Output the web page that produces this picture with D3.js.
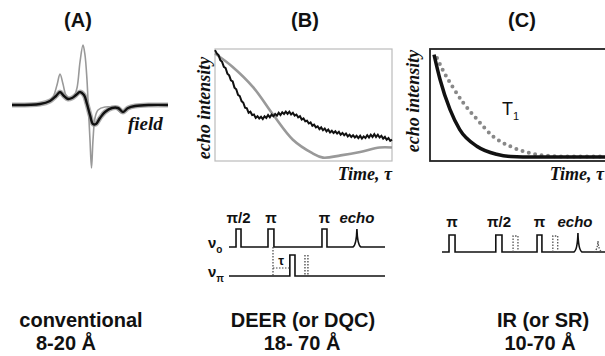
<!DOCTYPE html>
<html>
<head>
<meta charset="utf-8">
<script src="https://cdn.jsdelivr.net/npm/d3@7"></script>
<style>
  body { margin: 0; background: #fff; }
  svg { display: block; }
  .sans { font-family: "Liberation Sans", Arial, sans-serif; font-weight: bold; fill: #111; }
  .serif { font-family: "Liberation Serif", "Times New Roman", serif; font-weight: bold; font-style: italic; fill: #111; }
</style>
</head>
<body>
<div id="chart"></div>
<script>
// ---- panel A: cw EPR spectrum (field units, derivative intensity)
const specField = [0, 28, 36, 41, 45, 48, 51, 54, 58, 62, 65, 68, 71, 73, 75, 76, 78, 79.5, 81, 83, 86, 93, 103, 110, 116, 128, 156];
const specGray  = [0, 1, 3, 8, 20, 31, 21, 10, 7, 9, 17, 43, 60, 50, 25, 5, -35, -63, -35, -13, -5, -2, -3, -8, -4, -1, 0];
const specField2 = [0, 28, 38, 44, 48, 52, 56, 60, 64, 68, 72, 75, 78, 81, 84, 88, 93, 100, 106, 111, 116, 123, 138, 156];
const specBlack  = [0, 1, 4, 9, 13, 9, 6, 7, 10, 13, 10, 1, -10, -19, -19, -13, -7, -3, -3, -7, -3, -1, 0, 0];

// ---- panel B: DEER echo decay (time 0-100, normalised intensity)
const deerTime = d3.range(0, 101, 1);
const deerBlack = [0.99, 0.96, 0.945, 0.90, 0.885, 0.84, 0.83, 0.78, 0.765, 0.72,
  0.71, 0.655, 0.64, 0.59, 0.58, 0.535, 0.52, 0.475, 0.47, 0.43,
  0.44, 0.41, 0.415, 0.385, 0.40, 0.38, 0.395, 0.375, 0.40, 0.385,
  0.41, 0.39, 0.415, 0.40, 0.42, 0.405, 0.43, 0.41, 0.435, 0.42,
  0.44, 0.42, 0.44, 0.415, 0.43, 0.405, 0.415, 0.39, 0.40, 0.37,
  0.38, 0.355, 0.36, 0.335, 0.345, 0.315, 0.325, 0.30, 0.31, 0.285,
  0.30, 0.275, 0.29, 0.265, 0.28, 0.255, 0.27, 0.25, 0.265, 0.245,
  0.26, 0.235, 0.25, 0.23, 0.245, 0.22, 0.235, 0.215, 0.23, 0.21,
  0.225, 0.205, 0.225, 0.20, 0.22, 0.205, 0.23, 0.21, 0.235, 0.215,
  0.24, 0.215, 0.235, 0.21, 0.225, 0.20, 0.215, 0.19, 0.205, 0.18, 0.19];
const deerGrayTime = [0, 10, 21.5, 33, 44, 55, 61, 71, 82, 93, 100];
const deerGray = [0.96, 0.84, 0.66, 0.41, 0.19, 0.07, 0.03, 0.05, 0.08, 0.12, 0.12];

// ---- panel C: inversion recovery decays
const irTime = [2.3, 5.7, 11.4, 17, 27, 38, 46, 60, 100];
const irFast = [0.95, 0.73, 0.46, 0.28, 0.13, 0.06, 0.04, 0.035, 0.035];
const irSlowTime = [4, 7.4, 13, 19, 27, 36, 46, 55, 65, 80, 100];
const irSlow = [0.92, 0.81, 0.66, 0.52, 0.37, 0.22, 0.13, 0.08, 0.05, 0.04, 0.04];

// ---- pulse sequences (sequence time units)
const deerObsPulses = [[4.5, 7.7], [25, 28.8], [59.6, 62.8]];
const deerObsEcho = 82;
const deerPumpPulses = [[39, 42.3]];
const deerDotted = [48.7, 50.6];
const deerTauMark = [28.2, 39];
const deerLabels = [{t: 6.1, s: "π/2"}, {t: 26.9, s: "π"}, {t: 61.2, s: "π"}, {t: 82, s: "echo", it: true}];

const irPulses = [[4.3, 8], [33, 36.8], [58.3, 61.3]];
const irDottedPulses = [[43.6, 46.6], [68, 71]];
const irEcho = 83.4;
const irDottedEcho = 95.7;
const irLabels = [{t: 6.1, s: "π"}, {t: 35, s: "π/2"}, {t: 59.8, s: "π"}, {t: 81.6, s: "echo", it: true}];

const bottomLines = [
  {x: 81, l1: "conventional", x2: 66, l2: "8-20 Å"},
  {x: 303, l1: "DEER (or DQC)", x2: 302, l2: "18- 70 Å"},
  {x: 543, l1: "IR (or SR)", x2: 540, l2: "10-70 Å"}
];

const svg = d3.select("#chart").append("svg").attr("width", 605).attr("height", 356);

// titles
[["(A)", 78], ["(B)", 305], ["(C)", 522]].forEach(([s, x]) => {
  svg.append("text").attr("class", "sans").attr("x", x).attr("y", 27)
    .attr("text-anchor", "middle").style("font-size", "20px").text(s);
});

// ===== Panel A
const ax = d3.scaleLinear().domain([0, 156]).range([12, 168]);
const ay = d3.scaleLinear().domain([-65, 60]).range([170, 45]);
const aLine = d3.line().x(d => ax(d[0])).y(d => ay(d[1])).curve(d3.curveCatmullRom.alpha(0.5));
const grayPts = d3.zip(specField, specGray);
const blackPts = d3.zip(specField2, specBlack);
svg.append("path").attr("d", aLine(grayPts)).attr("fill", "none").attr("stroke", "#999").attr("stroke-width", 1.6);
svg.append("path").attr("d", aLine(blackPts)).attr("fill", "none").attr("stroke", "#999").attr("stroke-width", 5).attr("opacity", 0.8);
svg.append("path").attr("d", aLine(blackPts)).attr("fill", "none").attr("stroke", "#111").attr("stroke-width", 2.4);
svg.append("text").attr("class", "serif").attr("x", 128).attr("y", 130).style("font-size", "19px").text("field");

// ===== Panel B
const bx = d3.scaleLinear().domain([0, 100]).range([215, 392]);
const by = d3.scaleLinear().domain([0, 1]).range([161, 49]);
svg.append("rect").attr("x", 215).attr("y", 49).attr("width", 177).attr("height", 112)
  .attr("fill", "none").attr("stroke", "#bbb").attr("stroke-width", 1.2);
svg.append("path")
  .attr("d", d3.line().x(d => bx(d[0])).y(d => by(d[1])).curve(d3.curveCatmullRom)(d3.zip(deerGrayTime, deerGray)))
  .attr("fill", "none").attr("stroke", "#999").attr("stroke-width", 2.6);
svg.append("path")
  .attr("d", d3.line().x(d => bx(d[0])).y(d => by(d[1]))(d3.zip(deerTime, deerBlack)))
  .attr("fill", "none").attr("stroke", "#111").attr("stroke-width", 2);
svg.append("text").attr("class", "serif").attr("transform", "translate(210,108) rotate(-90)")
  .attr("text-anchor", "middle").style("font-size", "18px").text("echo intensity");
svg.append("text").attr("class", "serif").attr("x", 392).attr("y", 180)
  .attr("text-anchor", "end").style("font-size", "18px").text("Time, τ");

// ===== Panel C
const cx = d3.scaleLinear().domain([0, 100]).range([430, 605]);
const cy = d3.scaleLinear().domain([0, 1]).range([161, 49]);
svg.append("rect").attr("x", 430).attr("y", 49).attr("width", 180).attr("height", 112)
  .attr("fill", "none").attr("stroke", "#222").attr("stroke-width", 1.8);
svg.append("path")
  .attr("d", d3.line().x(d => cx(d[0])).y(d => cy(d[1])).curve(d3.curveMonotoneX)(d3.zip(irSlowTime, irSlow)))
  .attr("fill", "none").attr("stroke", "#888").attr("stroke-width", 4)
  .attr("stroke-linecap", "round").attr("stroke-dasharray", "0 6.5");
svg.append("path")
  .attr("d", d3.line().x(d => cx(d[0])).y(d => cy(d[1])).curve(d3.curveMonotoneX)(d3.zip(irTime, irFast)))
  .attr("fill", "none").attr("stroke", "#111").attr("stroke-width", 3.5);
svg.append("text").attr("class", "serif").attr("transform", "translate(419,101) rotate(-90)")
  .attr("text-anchor", "middle").style("font-size", "18px").text("echo intensity");
svg.append("text").attr("class", "serif").attr("x", 604).attr("y", 180)
  .attr("text-anchor", "end").style("font-size", "18px").text("Time, τ");
const t1 = svg.append("text").attr("class", "sans").attr("x", 502).attr("y", 115)
  .style("font-size", "18px").style("font-weight", "normal");
t1.append("tspan").text("T");
t1.append("tspan").attr("dy", 5).style("font-size", "11px").text("1");

// ===== pulse sequence helper
function train(sc, base, top, pulses, echo, echoTop) {
  const p = d3.path();
  const [x0, x1] = sc.range();
  p.moveTo(x0, base);
  pulses.forEach(([a, b]) => {
    p.lineTo(sc(a), base); p.lineTo(sc(a), top); p.lineTo(sc(b), top); p.lineTo(sc(b), base);
  });
  if (echo != null) {
    const e = sc(echo);
    p.lineTo(e - 4, base);
    p.quadraticCurveTo(e - 0.5, base - 2, e, echoTop);
    p.quadraticCurveTo(e + 0.5, base - 2, e + 4, base);
  }
  p.lineTo(x1, base);
  return p.toString();
}
function label(sc, l, y) {
  svg.append("text").attr("class", "sans").attr("x", sc(l.t)).attr("y", y)
    .attr("text-anchor", "middle").style("font-size", "15px")
    .style("font-style", l.it ? "italic" : "normal").text(l.s);
}
function nu(x, y, sub) {
  const t = svg.append("text").attr("class", "sans").attr("x", x).attr("y", y).style("font-size", "15px");
  t.append("tspan").text("ν");
  t.append("tspan").attr("dy", 5).style("font-size", "10px").text(sub);
}

// DEER sequence
const ds = d3.scaleLinear().domain([0, 100]).range([229, 385]);
svg.append("path").attr("d", train(ds, 247, 229, deerObsPulses, deerObsEcho, 229))
  .attr("fill", "none").attr("stroke", "#111").attr("stroke-width", 1.6);
svg.append("path").attr("d", train(ds, 276, 255, deerPumpPulses, null))
  .attr("fill", "none").attr("stroke", "#111").attr("stroke-width", 1.6);
svg.append("line").attr("x1", ds(deerTauMark[0])).attr("x2", ds(deerTauMark[0])).attr("y1", 247).attr("y2", 276)
  .attr("stroke", "#444").attr("stroke-width", 1.2).attr("stroke-dasharray", "1.5 1.5");
svg.append("line").attr("x1", ds(deerTauMark[0])).attr("x2", ds(deerTauMark[1])).attr("y1", 268).attr("y2", 268)
  .attr("stroke", "#444").attr("stroke-width", 1.2).attr("stroke-dasharray", "1.5 1.5");
deerDotted.forEach(t => {
  svg.append("line").attr("x1", ds(t)).attr("x2", ds(t)).attr("y1", 255).attr("y2", 276)
    .attr("stroke", "#444").attr("stroke-width", 1.3).attr("stroke-dasharray", "1.5 1.5");
});
svg.append("text").attr("class", "sans").attr("x", ds(33.5)).attr("y", 265)
  .attr("text-anchor", "middle").style("font-size", "13px").text("τ");
deerLabels.forEach(l => label(ds, l, 223));
nu(208, 248, "o");
nu(208, 277, "π");

// IR sequence
const is = d3.scaleLinear().domain([0, 100]).range([442, 605]);
svg.append("path").attr("d", train(is, 252, 235, irPulses, irEcho, 233))
  .attr("fill", "none").attr("stroke", "#111").attr("stroke-width", 1.6);
irDottedPulses.forEach(([a, b]) => {
  const p = d3.path();
  p.moveTo(is(a), 252); p.lineTo(is(a), 236); p.lineTo(is(b), 236); p.lineTo(is(b), 252);
  svg.append("path").attr("d", p.toString()).attr("fill", "none")
    .attr("stroke", "#555").attr("stroke-width", 1.3).attr("stroke-dasharray", "1.5 1.5");
});
{
  const e = is(irDottedEcho), p = d3.path();
  p.moveTo(e - 4, 252); p.quadraticCurveTo(e - 0.5, 250, e, 241); p.quadraticCurveTo(e + 0.5, 250, e + 4, 252);
  svg.append("path").attr("d", p.toString()).attr("fill", "none")
    .attr("stroke", "#555").attr("stroke-width", 1.3).attr("stroke-dasharray", "1.5 1.5");
}
irLabels.forEach(l => label(is, l, 227));

// bottom captions
bottomLines.forEach(b => {
  svg.append("text").attr("class", "sans").attr("x", b.x).attr("y", 327)
    .attr("text-anchor", "middle").style("font-size", "20px").text(b.l1);
  svg.append("text").attr("class", "sans").attr("x", b.x2).attr("y", 350)
    .attr("text-anchor", "middle").style("font-size", "20px").text(b.l2);
});
</script>
</body>
</html>
